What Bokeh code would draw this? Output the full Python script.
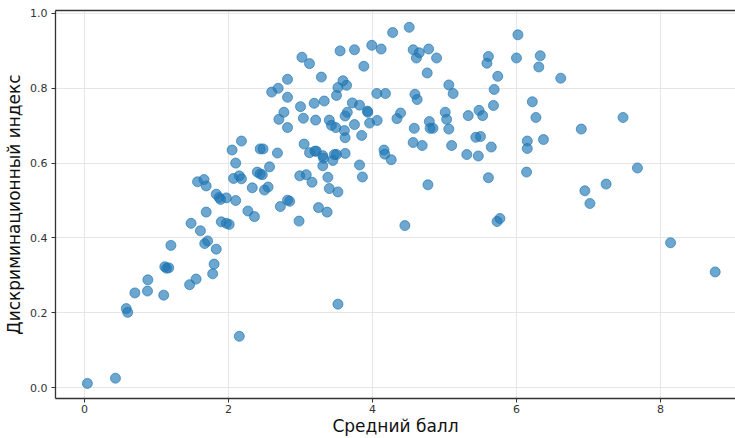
from bokeh.plotting import figure
from bokeh.models import Range1d, LinearAxis, FixedTicker, ColumnDataSource, CustomJSTickFormatter
from bokeh.embed import file_html
from bokeh.resources import INLINE

avg_score = [0.04, 0.43, 0.58, 0.60, 0.70, 0.875, 0.88, 1.10, 1.115, 1.14, 1.17, 1.20,
             1.46, 1.48, 1.55, 1.57, 1.61, 1.66, 1.67, 1.69, 1.69, 1.71, 1.78, 1.80,
             1.83, 1.83, 1.87, 1.89, 1.90, 1.97, 1.97, 2.01, 2.05, 2.07, 2.10, 2.10,
             2.15, 2.18, 2.18, 2.15, 2.27, 2.33, 2.36, 2.40, 2.44, 2.47, 2.44, 2.48,
             2.50, 2.55, 2.57, 2.60, 2.69, 2.68, 2.70, 2.72, 2.77, 2.82, 2.82, 2.82,
             2.82, 2.85, 2.98, 2.99, 3.00, 3.02, 3.04, 3.05, 3.08, 3.125, 3.125, 3.16,
             3.19, 3.20, 3.22, 3.21, 3.25, 3.29, 3.33, 3.31, 3.32, 3.31, 3.37, 3.38,
             3.40, 3.40, 3.43, 3.45, 3.47, 3.49, 3.50, 3.50, 3.52, 3.52, 3.52, 3.55,
             3.59, 3.61, 3.62, 3.62, 3.62, 3.64, 3.65, 3.72, 3.75, 3.75, 3.82, 3.82,
             3.85, 3.86, 3.88, 3.93, 3.935, 3.96, 3.99, 4.06, 4.065, 4.12, 4.16, 4.17,
             4.18, 4.26, 4.28, 4.34, 4.39, 4.45, 4.51, 4.565, 4.565, 4.58, 4.59, 4.61,
             4.62, 4.65, 4.69, 4.76, 4.77, 4.78, 4.79, 4.80, 4.84, 4.89, 5.01, 5.03,
             5.06, 5.06, 5.10, 5.12, 5.31, 5.33, 5.435, 5.47, 5.48, 5.50, 5.53, 5.59,
             5.61, 5.61, 5.65, 5.68, 5.69, 5.73, 5.74, 5.77, 6.00, 6.02, 6.14, 6.15,
             6.15, 6.22, 6.27, 6.31, 6.33, 6.375, 6.615, 6.90, 6.95, 7.02, 7.245, 7.48,
             7.68, 8.14, 8.76]

disc_index = [0.011, 0.025, 0.211, 0.201, 0.253, 0.258, 0.288, 0.247, 0.323, 0.319, 0.320, 0.380,
              0.275, 0.439, 0.290, 0.550, 0.419, 0.556, 0.385, 0.539, 0.469, 0.392, 0.304, 0.330,
              0.370, 0.517, 0.508, 0.503, 0.443, 0.507, 0.439, 0.436, 0.635, 0.559, 0.600, 0.500,
              0.566, 0.558, 0.659, 0.137, 0.472, 0.534, 0.457, 0.576, 0.571, 0.569, 0.638, 0.638,
              0.528, 0.536, 0.590, 0.790, 0.800, 0.627, 0.717, 0.484, 0.736, 0.824, 0.776, 0.695,
              0.501, 0.498, 0.445, 0.566, 0.751, 0.883, 0.720, 0.651, 0.569, 0.866, 0.628, 0.549,
              0.760, 0.632, 0.632, 0.715, 0.481, 0.830, 0.766, 0.620, 0.613, 0.593, 0.469, 0.562,
              0.532, 0.715, 0.701, 0.607, 0.623, 0.695, 0.623, 0.781, 0.523, 0.802, 0.223, 0.900,
              0.820, 0.687, 0.626, 0.726, 0.668, 0.808, 0.736, 0.761, 0.903, 0.703, 0.755, 0.595,
              0.674, 0.563, 0.859, 0.739, 0.736, 0.707, 0.915, 0.786, 0.714, 0.905, 0.635, 0.624,
              0.786, 0.609, 0.949, 0.719, 0.734, 0.433, 0.963, 0.903, 0.655, 0.693, 0.784, 0.881,
              0.770, 0.895, 0.647, 0.841, 0.542, 0.905, 0.711, 0.693, 0.693, 0.881, 0.736, 0.717,
              0.809, 0.691, 0.647, 0.786, 0.623, 0.727, 0.669, 0.619, 0.741, 0.671, 0.727, 0.867,
              0.885, 0.561, 0.643, 0.754, 0.797, 0.444, 0.832, 0.452, 0.881, 0.943, 0.576, 0.659,
              0.639, 0.764, 0.722, 0.857, 0.887, 0.663, 0.827, 0.691, 0.526, 0.492, 0.544, 0.722,
              0.587, 0.387, 0.309]

x_ticks = [0, 2, 4, 6, 8]
y_ticks = [0.0, 0.2, 0.4, 0.6, 0.8, 1.0]
x_label = "Средний балл"
y_label = "Дискриминационный индекс"

source = ColumnDataSource(data=dict(x=avg_score, y=disc_index))

p = figure(width=735, height=438, output_backend="svg", toolbar_location=None,
           x_range=Range1d(-0.4028, 9.042), y_range=Range1d(-0.0293, 1.008),
           min_border_top=10, min_border_right=0, min_border_left=55, min_border_bottom=0)

p.scatter("x", "y", source=source, size=10, marker="circle",
          fill_color="#1f77b4", fill_alpha=0.65,
          line_color="#1f77b4", line_alpha=0.65, line_width=1)

p.outline_line_color = None
p.background_fill_color = "white"
p.border_fill_color = "white"

for ax in (p.xaxis[0], p.yaxis[0]):
    ax.axis_line_color = "#333333"
    ax.axis_line_width = 1.3
    ax.major_tick_line_color = "#333333"
    ax.major_tick_out = 4
    ax.major_tick_in = 0
    ax.minor_tick_out = 0
    ax.minor_tick_in = 0
    ax.major_label_text_font = "DejaVu Sans"
    ax.major_label_text_font_size = "11px"
    ax.major_label_text_color = "#333333"
    ax.axis_label_text_font = "DejaVu Sans"
    ax.axis_label_text_font_size = "17px"
    ax.axis_label_text_font_style = "normal"
    ax.axis_label_text_color = "#111111"

p.xaxis[0].ticker = FixedTicker(ticks=x_ticks)
p.yaxis[0].ticker = FixedTicker(ticks=y_ticks)
p.yaxis[0].formatter = CustomJSTickFormatter(code="return tick.toFixed(1);")
p.xaxis[0].axis_label = x_label
p.yaxis[0].axis_label = y_label
p.xaxis[0].major_label_standoff = 2
p.xaxis[0].axis_label_standoff = 0
p.yaxis[0].major_label_standoff = 4
p.yaxis[0].axis_label_standoff = 3

top = LinearAxis(ticker=FixedTicker(ticks=[]), major_label_text_font_size="0px",
                 major_tick_out=0, major_tick_in=0, minor_tick_out=0, minor_tick_in=0,
                 major_label_standoff=0, axis_line_color="#333333", axis_line_width=1.3)
p.add_layout(top, "above")

p.xgrid.ticker = FixedTicker(ticks=x_ticks)
p.ygrid.ticker = FixedTicker(ticks=y_ticks)
p.grid.grid_line_color = "#e6e6e6"
p.grid.grid_line_width = 1

open("out.html", "w").write(file_html(p, INLINE))
